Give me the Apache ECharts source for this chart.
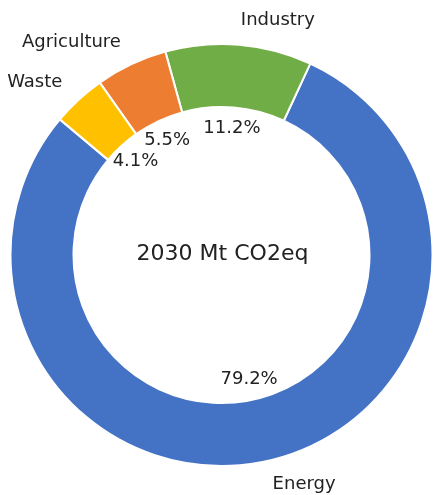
<!DOCTYPE html>
<html>
<head>
<meta charset="utf-8">
<script src="https://cdn.jsdelivr.net/npm/echarts@6/dist/echarts.min.js"></script>
<style>
html,body{margin:0;padding:0;background:#fff;}
#chart{width:433px;height:495px;}
</style>
</head>
<body>
<div id="chart"></div>
<script>
const categories = ['Energy', 'Industry', 'Agriculture', 'Waste'];
const shares = [79.2, 11.2, 5.5, 4.1];
const colors = ['#4472C4', '#70AD47', '#ED7D31', '#FFC000'];
const centerText = '2030 Mt CO2eq';

const FONT = 'DejaVu Sans';
const cx = 221.5, cy = 255, R = 211, R0 = 148;

const data = categories.map((c, i) => ({ name: c, value: shares[i], itemStyle: { color: colors[i] } }));

const chart = echarts.init(document.getElementById('chart'), null, { renderer: 'canvas' });
chart.setOption({
  animation: false,
  backgroundColor: '#ffffff',
  series: [
    {
      type: 'pie',
      center: [cx, cy],
      radius: [R0, R],
      startAngle: 140,
      clockwise: false,
      avoidLabelOverlap: false,
      silent: true,
      itemStyle: { borderColor: '#ffffff', borderWidth: 2 },
      label: {
        show: true,
        position: 'outside',
        formatter: '{b}',
        fontFamily: FONT,
        fontSize: 18,
        color: '#222222',
        distanceToLabelLine: 0,
        bleedMargin: 0
      },
      labelLine: { show: false, length: 24, length2: 0 },
      emphasis: { disabled: true },
      data: data
    },
    {
      type: 'pie',
      center: [cx, cy],
      radius: [124, 124],
      startAngle: 140,
      clockwise: false,
      avoidLabelOverlap: false,
      silent: true,
      itemStyle: { color: 'transparent', borderWidth: 0 },
      label: {
        show: true,
        position: 'inside',
        formatter: p => p.value.toFixed(1) + '%',
        fontFamily: FONT,
        fontSize: 18,
        color: '#222222'
      },
      labelLine: { show: false },
      emphasis: { disabled: true },
      data: categories.map((c, i) => ({ name: c, value: shares[i] }))
    }
  ],
  graphic: [
    {
      type: 'text',
      x: cx + 1,
      y: cy - 1,
      style: {
        text: centerText,
        fontFamily: FONT,
        fontSize: 22,
        fill: '#222222',
        textAlign: 'center',
        textVerticalAlign: 'middle'
      }
    }
  ]
});
</script>
</body>
</html>
